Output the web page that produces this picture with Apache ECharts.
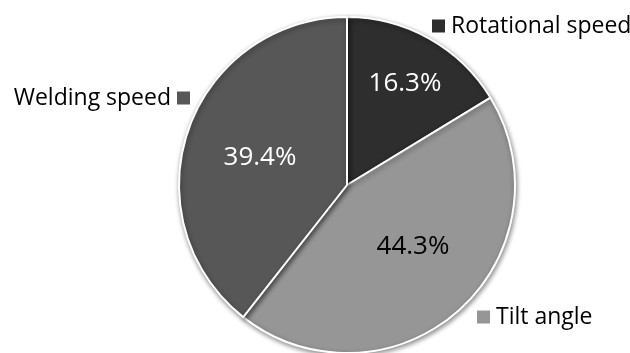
<!DOCTYPE html>
<html><head><meta charset="utf-8">
<script src="https://cdn.jsdelivr.net/npm/echarts@6/dist/echarts.min.js"></script>
<style>html,body{margin:0;padding:0;background:#fff}#c{width:630px;height:353px}</style>
</head><body><div id="c"></div>
<script>
const categories = ['Rotational speed', 'Tilt angle', 'Welding speed'];
const values = [16.3, 44.3, 39.4];
const colors = ['#2e2e2e', '#969696', '#575757'];
const innerTextColors = ['#ffffff', '#000000', '#ffffff'];

const innerPos = [[405, 84], [413, 247], [260, 158]];
const outerPos = [[432, 26, 'left'], [477, 317, 'left'], [190, 98, 'right']];
const FONT = 'Open Sans';

const chart = echarts.init(document.getElementById('c'), null, {renderer: 'canvas'});
const data = categories.map((n, i) => ({name: n, value: values[i], itemStyle: {color: colors[i]}}));
chart.setOption({
  animation: false,
  series: [
    {
      type: 'pie', center: [347, 185], radius: 168, startAngle: 90, clockwise: true,
      itemStyle: {borderColor: '#fff', borderWidth: 2, shadowBlur: 5, shadowColor: 'rgba(0,0,0,0.45)', shadowOffsetX: 1, shadowOffsetY: 2},
      emphasis: {disabled: true},
      label: {
        show: true, position: 'inside', fontFamily: FONT, fontSize: 26,
        formatter: p => p.value.toFixed(1) + '%',
        color: '#fff', overflow: 'none'
      },
      labelLine: {show: false},
      labelLayout: p => ({x: innerPos[p.dataIndex][0], y: innerPos[p.dataIndex][1], align: 'center', verticalAlign: 'middle'}),
      data: data.map((d, i) => Object.assign({}, d, {label: {color: innerTextColors[i]}}))
    },
    {
      type: 'pie', center: [347, 185], radius: 168, startAngle: 90, clockwise: true, silent: true, z: 3,
      itemStyle: {color: 'rgba(0,0,0,0)', borderWidth: 0},
      emphasis: {disabled: true},
      label: {
        show: true, position: 'outside', fontFamily: FONT, fontSize: 23, color: '#000', overflow: 'none',
        formatter: p => p.dataIndex === 2 ? '{t|' + p.name + '} {s' + p.dataIndex + '|}' : '{s' + p.dataIndex + '|} {t|' + p.name + '}',
        rich: {
          t: {fontFamily: FONT, fontSize: 23, color: '#000'},
          s0: {backgroundColor: colors[0], width: 13, height: 13},
          s1: {backgroundColor: colors[1], width: 13, height: 13},
          s2: {backgroundColor: colors[2], width: 13, height: 13}
        }
      },
      labelLine: {show: false},
      labelLayout: p => ({x: outerPos[p.dataIndex][0], y: outerPos[p.dataIndex][1], align: outerPos[p.dataIndex][2], verticalAlign: 'middle'}),
      data: data.map(d => ({name: d.name, value: d.value}))
    }
  ]
});
</script></body></html>
